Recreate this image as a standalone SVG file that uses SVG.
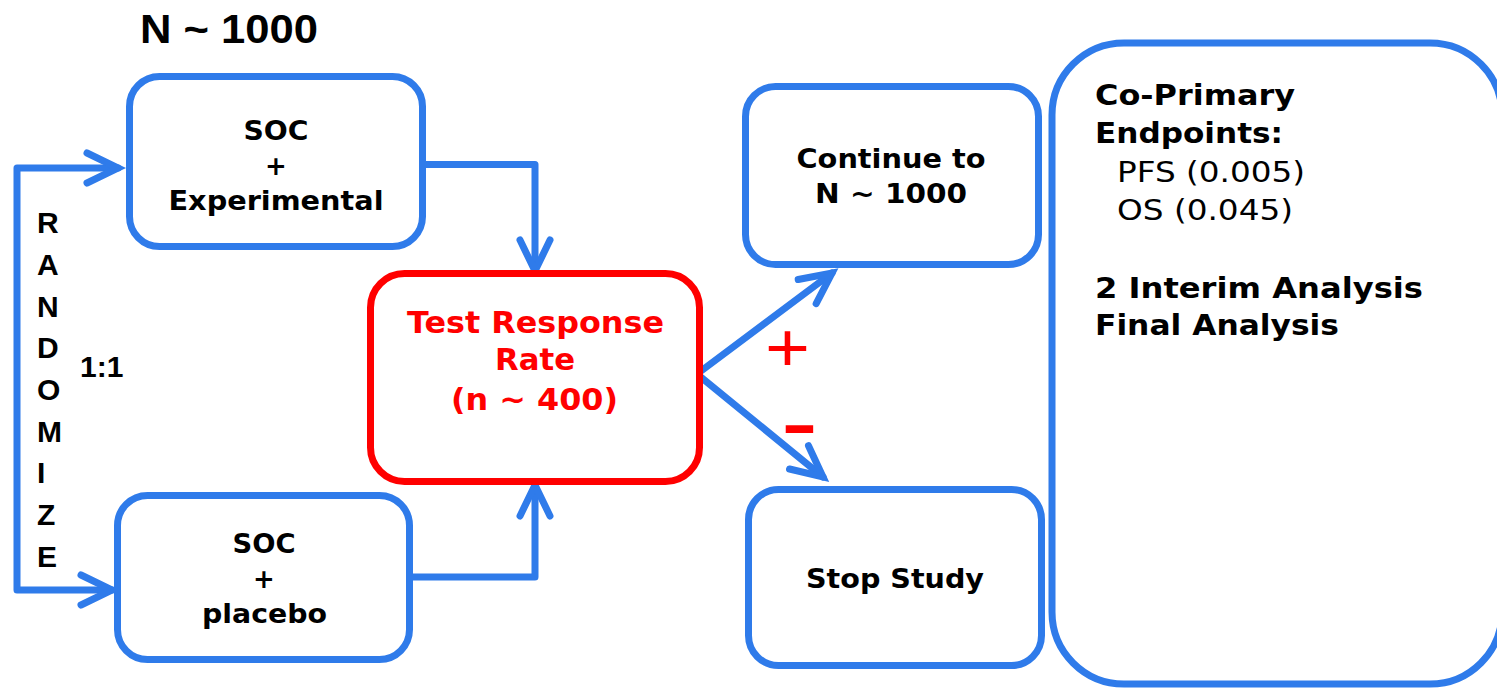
<svg xmlns="http://www.w3.org/2000/svg" width="1497" height="689" viewBox="0 0 1497 689">
<style>
.box{fill:#fff;stroke:#2f7bea;stroke-width:7}
.red{fill:#fff;stroke:#ff0000;stroke-width:7}
.lbl{font-family:"DejaVu Sans",Verdana,sans-serif;font-weight:bold;font-size:26px;fill:#000;text-anchor:middle}
.rl{font-family:"DejaVu Sans",Verdana,sans-serif;font-weight:bold;font-size:30px;fill:#ff0000;text-anchor:middle}
.side{font-family:"DejaVu Sans",Verdana,sans-serif;font-size:28px;fill:#000}
.b{font-weight:bold}
.ar{font-family:"Liberation Sans",Arial,sans-serif;font-weight:bold;fill:#000}
.con{fill:none;stroke:#2f7bea;stroke-width:7;stroke-linecap:round;stroke-linejoin:round}
.sign{font-family:"Liberation Sans",Arial,sans-serif;fill:#ff0000;text-anchor:middle}
</style>
<defs>
<marker id="chev" markerUnits="userSpaceOnUse" viewBox="-40 -20 50 40" refX="0" refY="0" markerWidth="50" markerHeight="40" orient="auto-start-reverse" overflow="visible">
<path d="M-31,-15 L0,0 L-31,15" fill="none" stroke="#2f7bea" stroke-width="7" stroke-linecap="round" stroke-linejoin="miter"/>
</marker>
</defs>

<text class="ar" x="140" y="43" font-size="41" textLength="178" lengthAdjust="spacingAndGlyphs">N ~ 1000</text>

<g id="connectors">
<path class="con" d="M118,168 H17 V590 H112" marker-start="url(#chev)" marker-end="url(#chev)"/>
<path class="con" d="M426,164.5 H535 V271" marker-end="url(#chev)"/>
<path class="con" d="M413,577 H535 V485" marker-end="url(#chev)"/>
<path class="con" d="M697,374 L832,273" marker-end="url(#chev)"/>
<path class="con" d="M697,374 L823,477" marker-end="url(#chev)"/>
</g>

<g id="randomize">
<text class="ar" font-size="30"><tspan x="37" y="233">R</tspan><tspan x="37" y="275">A</tspan><tspan x="37" y="317">N</tspan><tspan x="37" y="358">D</tspan><tspan x="37" y="400">O</tspan><tspan x="37" y="442">M</tspan><tspan x="37" y="483">I</tspan><tspan x="37" y="525">Z</tspan><tspan x="37" y="567">E</tspan></text>
<text class="ar" font-size="30" x="80" y="377">1:1</text>
</g>

<g id="soc-experimental">
<rect class="box" x="129.5" y="76.5" width="293" height="170" rx="30"/>
<text class="lbl" x="276" y="140" textLength="65" lengthAdjust="spacingAndGlyphs">SOC</text>
<text class="lbl" x="276" y="175">+</text>
<text class="lbl" x="276" y="210" textLength="215" lengthAdjust="spacingAndGlyphs">Experimental</text>
</g>

<g id="soc-placebo">
<rect class="box" x="117.5" y="495.5" width="292" height="164" rx="30"/>
<text class="lbl" x="264" y="553" textLength="63" lengthAdjust="spacingAndGlyphs">SOC</text>
<text class="lbl" x="264" y="588">+</text>
<text class="lbl" x="264.5" y="623" textLength="125" lengthAdjust="spacingAndGlyphs">placebo</text>
</g>

<g id="test-response">
<rect class="red" x="370.5" y="273.5" width="329" height="208" rx="34"/>
<text class="rl" x="535.5" y="333" textLength="257" lengthAdjust="spacingAndGlyphs">Test Response</text>
<text class="rl" x="535" y="370" textLength="80" lengthAdjust="spacingAndGlyphs">Rate</text>
<text class="rl" x="534.5" y="410" textLength="167" lengthAdjust="spacingAndGlyphs">(n ~ 400)</text>
</g>

<g id="signs">
<text class="sign" x="787.5" y="371" font-size="68" textLength="45" lengthAdjust="spacingAndGlyphs">+</text>
<text class="sign" x="799.5" y="446" font-size="65" font-weight="bold" textLength="36" lengthAdjust="spacingAndGlyphs">-</text>
</g>

<g id="continue">
<rect class="box" x="745.5" y="86.5" width="293" height="178" rx="30"/>
<text class="lbl" x="891" y="168" textLength="189" lengthAdjust="spacingAndGlyphs">Continue to</text>
<text class="lbl" x="891" y="203" textLength="152" lengthAdjust="spacingAndGlyphs">N ~ 1000</text>
</g>

<g id="stop">
<rect class="box" x="748.5" y="489.5" width="293" height="176" rx="30"/>
<text class="lbl" x="895" y="588" textLength="178" lengthAdjust="spacingAndGlyphs">Stop Study</text>
</g>

<g id="endpoints">
<rect class="box" x="1052" y="43" width="450" height="641" rx="72"/>
<text class="side b" x="1095" y="105" textLength="200" lengthAdjust="spacingAndGlyphs">Co-Primary</text>
<text class="side b" x="1095" y="143" textLength="188" lengthAdjust="spacingAndGlyphs">Endpoints:</text>
<text class="side" x="1117" y="182" textLength="188" lengthAdjust="spacingAndGlyphs">PFS (0.005)</text>
<text class="side" x="1117" y="220" textLength="176" lengthAdjust="spacingAndGlyphs">OS (0.045)</text>
<text class="side b" x="1095" y="298" textLength="328" lengthAdjust="spacingAndGlyphs">2 Interim Analysis</text>
<text class="side b" x="1095" y="335" textLength="244" lengthAdjust="spacingAndGlyphs">Final Analysis</text>
</g>
</svg>
